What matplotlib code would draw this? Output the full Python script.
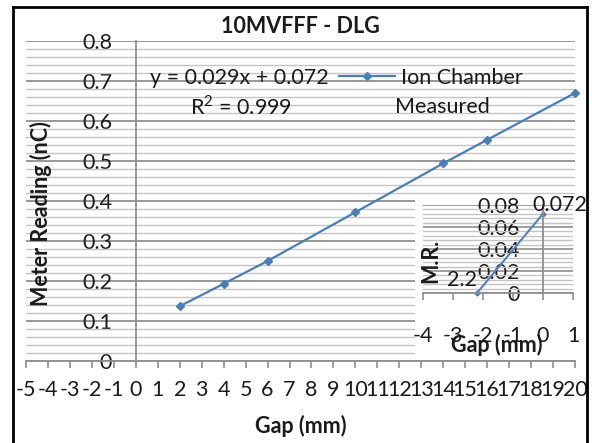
import matplotlib
matplotlib.use("Agg")
import matplotlib.pyplot as plt
from matplotlib.patches import Rectangle
from matplotlib.lines import Line2D
from matplotlib.ticker import MultipleLocator

# ---- data ----
gap_mm = [2, 4, 6, 10, 14, 16, 20]
meter_nc = [0.137, 0.193, 0.250, 0.372, 0.494, 0.553, 0.670]
inset_gap = [-2.2, 0]
inset_mr = [0.0, 0.072]
main_xticks = list(range(-5, 21))
main_yticks = [0, 0.1, 0.2, 0.3, 0.4, 0.5, 0.6, 0.7, 0.8]
inset_xticks = [-4, -3, -2, -1, 0, 1]
inset_yticks = [0, 0.02, 0.04, 0.06, 0.08]
title = "10MVFFF - DLG"
eq_text = "y = 0.029x + 0.072"
r2_text = "R$^2$ = 0.999"
series_name = "Ion Chamber"

plt.rcParams['font.family'] = ['Lato', 'DejaVu Sans']
plt.rcParams['mathtext.fontset'] = 'custom'
plt.rcParams['mathtext.rm'] = 'Lato'
FS = 15.5
TXT = '#1a1a1a'
LINEC = '#4A7EBB'
MAJ = '#8f8f8f'
MIN = '#c4c4c4'

W, H = 592, 443
fig = plt.figure(figsize=(W / 100, H / 100), dpi=100)
fig.patch.set_facecolor('white')

def px_rect(x0, x1, y0, y1):
    return [x0 / W, 1 - y1 / H, (x1 - x0) / W, (y1 - y0) / H]

# ---- main axes ----
ax = fig.add_axes(px_rect(26, 575, 41, 361))
ax.set_zorder(0)
ax.set_xlim(-5, 20)
ax.set_ylim(0, 0.8)
ax.set_xticks(main_xticks)
ax.set_xticklabels([str(t) for t in main_xticks])
ax.set_yticks(main_yticks)
ax.set_yticklabels(['0' if t == 0 else f"{t:.1f}" for t in main_yticks])
ax.yaxis.set_minor_locator(MultipleLocator(0.02))
ax.grid(True, axis='y', which='major', color=MAJ, lw=1.3)
ax.grid(True, axis='y', which='minor', color=MIN, lw=1.0)
ax.set_axisbelow(True)
for s in ['top', 'right']:
    ax.spines[s].set_visible(False)
ax.spines['left'].set_position(('data', 0))
ax.spines['left'].set_color(MAJ)
ax.spines['bottom'].set_color(MAJ)
ax.spines['left'].set_linewidth(1.3)
ax.spines['bottom'].set_linewidth(1.3)
ax.tick_params(axis='y', which='both', length=0, pad=17, labelsize=FS, labelcolor=TXT)
ax.tick_params(axis='x', length=5, width=1.2, color=MAJ, pad=9, labelsize=FS, labelcolor=TXT)
ax.set_xlabel("Gap (mm)", fontsize=FS, fontweight='bold', color=TXT)
ax.xaxis.set_label_coords(0.5, -0.17)
ax.set_ylabel("Meter Reading (nC)", fontsize=FS, fontweight='bold', color=TXT)
ax.yaxis.set_label_coords(0.048, 0.46)

line, = ax.plot(gap_mm, meter_nc, color=LINEC, lw=1.6, marker='D', ms=4,
                mfc=LINEC, mec=LINEC, label=series_name, clip_on=False)

ax.text(0.5, 1.044, title, transform=ax.transAxes, ha='center', va='center',
        fontsize=FS, fontweight='bold', color=TXT)
ax.text(0.64, 0.7075, eq_text, ha='left', va='center', fontsize=FS, color=TXT)
ax.text(4.78, 0.635, r2_text, ha='center', va='center', fontsize=FS, color=TXT)
leg = ax.legend(handles=[line], loc='center left', bbox_to_anchor=(9.25, 0.7075),
                bbox_transform=ax.transData, frameon=False, fontsize=FS,
                handlelength=2.6, handletextpad=0.3, borderpad=0, borderaxespad=0,
                labelcolor=TXT)
ax.text(11.8, 0.635, "Measured", ha='left', va='center', fontsize=FS, color=TXT)

# ---- white backdrop for inset ----
fig.patches.append(Rectangle((415 / W, 1 - 357 / H), 165 / W, 159 / H,
                             transform=fig.transFigure, facecolor='white',
                             edgecolor='none', zorder=1))

# ---- inset axes ----
ia = fig.add_axes(px_rect(423, 573, 205, 293))
ia.set_zorder(2)
ia.patch.set_alpha(0)
ia.set_xlim(-4, 1)
ia.set_ylim(0, 0.08)
ia.set_xticks(inset_xticks)
ia.set_xticklabels([str(t) for t in inset_xticks])
ia.set_yticks(inset_yticks)
ia.set_yticklabels(['0' if t == 0 else f"{t:.2f}" for t in inset_yticks])
ia.yaxis.set_minor_locator(MultipleLocator(0.004))
ia.grid(True, axis='y', which='major', color=MAJ, lw=1.2)
ia.grid(True, axis='y', which='minor', color=MIN, lw=1.0)
ia.set_axisbelow(True)
for s in ['top', 'right']:
    ia.spines[s].set_visible(False)
ia.spines['left'].set_position(('data', 0))
ia.spines['left'].set_color(MAJ)
ia.spines['bottom'].set_color(MAJ)
ia.spines['left'].set_linewidth(1.3)
ia.spines['bottom'].set_linewidth(1.3)
ia.tick_params(axis='y', which='both', length=0, pad=17, labelsize=FS, labelcolor=TXT)
ia.tick_params(axis='x', length=5, width=1.2, color=MAJ, pad=19, labelsize=FS, labelcolor=TXT)
ia.set_xlabel("Gap (mm)", fontsize=FS, fontweight='bold', color=TXT)
ia.xaxis.set_label_coords(0.49, -0.47)
ia.set_ylabel("M.R.", fontsize=FS, fontweight='bold', color=TXT)
ia.yaxis.set_label_coords(0.12, 0.37)
ia.plot(inset_gap, inset_mr, color=LINEC, lw=1.4, marker='D', ms=2.5,
        mfc=LINEC, mec=LINEC, clip_on=False)
ia.text(-0.37, 0.08, f"{inset_mr[1]:.3f}", ha='left', va='center', fontsize=FS, color=TXT)
ia.text(-2.2, 0.0118, "2.2", ha='right', va='center', fontsize=FS, color=TXT)

# ---- chart border ----
bx0, bx1, by0 = 13 / W, 587 / W, 1 - 7 / H
for xs, ys in [([bx0, bx0], [0, by0]), ([bx0, bx1], [by0, by0]), ([bx1, bx1], [by0, 0])]:
    fig.add_artist(Line2D(xs, ys, transform=fig.transFigure, color='black', lw=2))

fig.savefig("out.png", dpi=100)
